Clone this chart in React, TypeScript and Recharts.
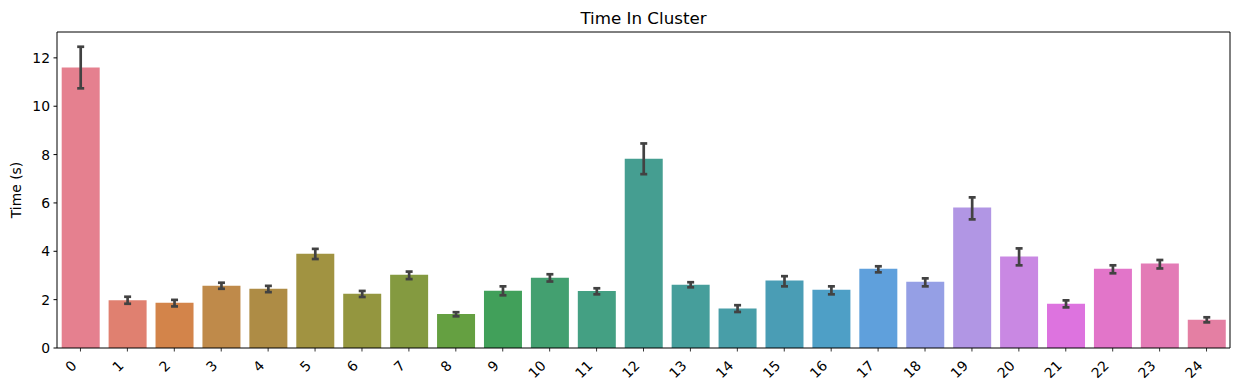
import { BarChart, Bar, XAxis, YAxis, ErrorBar, Cell } from 'recharts';

const clusters = ['0', '1', '2', '3', '4', '5', '6', '7', '8', '9', '10', '11', '12', '13', '14', '15', '16', '17', '18', '19', '20', '21', '22', '23', '24'];

const meanTime = [11.6, 1.98, 1.87, 2.57, 2.45, 3.9, 2.24, 3.03, 1.41, 2.37, 2.91, 2.36, 7.83, 2.62, 1.63, 2.79, 2.41, 3.28, 2.74, 5.81, 3.78, 1.83, 3.28, 3.49, 1.17];
const ciLow = [10.74, 1.83, 1.72, 2.45, 2.31, 3.68, 2.11, 2.85, 1.31, 2.18, 2.75, 2.22, 7.19, 2.51, 1.49, 2.55, 2.22, 3.13, 2.55, 5.32, 3.42, 1.68, 3.09, 3.29, 1.06];
const ciHigh = [12.46, 2.12, 1.99, 2.7, 2.57, 4.1, 2.36, 3.16, 1.48, 2.55, 3.05, 2.47, 8.46, 2.72, 1.77, 2.97, 2.55, 3.38, 2.88, 6.23, 4.12, 1.97, 3.42, 3.64, 1.27];

const barColors = ['#e5808f', '#e08070', '#d3844a', '#bf8a4a', '#ae8c45', '#a19341', '#94963f', '#849a40', '#65a041', '#41a05a', '#43a070', '#44a083', '#459e91', '#469e9b', '#489ea8', '#4a9db5', '#4e9fc6', '#5fa0dc', '#959fe5', '#b196e4', '#c988e3', '#dd73df', '#e275c9', '#e37bb6', '#e47fa3'];

const yTicks = [0, 2, 4, 6, 8, 10, 12];

const data = clusters.map((c, i) => ({
  cluster: c,
  time: meanTime[i],
  err: [meanTime[i] - ciLow[i], ciHigh[i] - meanTime[i]],
}));

const font = '"DejaVu Sans", sans-serif';

function XTick({ x, y, payload }: any) {
  return (
    <text
      transform={`translate(${x - 3},${y + 13}) rotate(-45)`}
      textAnchor="end"
      fontSize={13.9}
      fontFamily={font}
      fill="#000"
    >
      {payload.value}
    </text>
  );
}

export default function App() {
  return (
    <div style={{ position: 'absolute', left: 0, top: 0, width: 1240, height: 390, background: '#fff' }}>
      <BarChart
        width={1240}
        height={390}
        data={data}
        margin={{ top: 31, right: 9, left: 0, bottom: 0 }}
        barCategoryGap="10%"
      >
        <XAxis
          dataKey="cluster"
          tick={<XTick />}
          tickSize={3.5}
          tickMargin={2}
          height={42}
          interval={0}
          stroke="#000"
          tickLine={{ stroke: '#000', strokeWidth: 0.8 }}
        />
        <XAxis xAxisId="top" dataKey="cluster" orientation="top" tick={false} tickLine={false} height={1} stroke="#000" />
        <YAxis
          domain={[0, 13.07]}
          ticks={yTicks}
          width={57}
          tickSize={3.5}
          tickMargin={3.5}
          stroke="#000"
          tick={{ fill: '#000', fontSize: 13.9, fontFamily: font }}
          allowDataOverflow
        />
        <YAxis yAxisId="right" orientation="right" tick={false} tickLine={false} width={1} stroke="#000" />
        <Bar dataKey="time" isAnimationActive={false}>
          {data.map((d, i) => (
            <Cell key={d.cluster} fill={barColors[i]} />
          ))}
          <ErrorBar dataKey="err" width={3.5} stroke="#424242" strokeWidth={2.7} />
        </Bar>
      </BarChart>
      <svg width={1240} height={390} style={{ position: 'absolute', left: 0, top: 0, pointerEvents: 'none' }}>
        <text x={643.5} y={24} textAnchor="middle" fontSize={16.7} fontFamily={font} fill="#000">
          Time In Cluster
        </text>
        <text transform="translate(21,190) rotate(-90)" textAnchor="middle" fontSize={13.9} fontFamily={font} fill="#000">
          Time (s)
        </text>
      </svg>
    </div>
  );
}
